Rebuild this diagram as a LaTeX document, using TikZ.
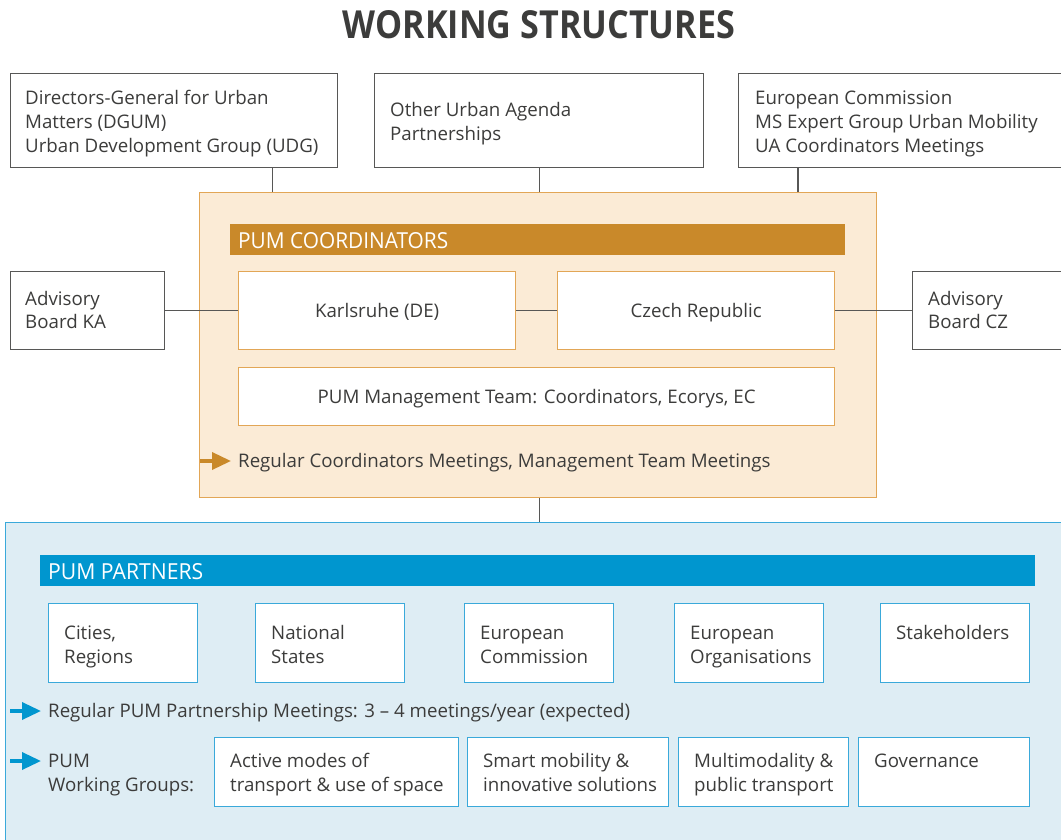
\documentclass[tikz,border=0pt]{standalone}
\usepackage{fontspec}
\setmainfont{Open Sans}
\usetikzlibrary{arrows.meta}

\definecolor{txt}{HTML}{3C3C3B}
\definecolor{greyline}{HTML}{575756}
\definecolor{orfill}{HTML}{FBEBD6}
\definecolor{orline}{HTML}{E2A656}
\definecolor{orbar}{HTML}{C9892A}
\definecolor{blfill}{HTML}{DEEDF4}
\definecolor{blline}{HTML}{3AA9DA}
\definecolor{blbar}{HTML}{0096CF}

% multi-line text whose baseline is the first line
\newcommand{\mlines}[1]{\begin{tabular}[t]{@{}l@{}}#1\end{tabular}}

\tikzset{
  body/.style={font=\fontsize{18.7}{24}\selectfont, text=txt},
  greybox/.style={draw=greyline, line width=1.3pt, fill=white},
  orbox/.style={draw=orline, line width=1.3pt, fill=white},
  blbox/.style={draw=blline, line width=1.3pt, fill=white},
  link/.style={draw=greyline, line width=1.2pt},
  label/.style={body, anchor=base west, inner sep=0pt},
  ctrlabel/.style={body, anchor=base, inner sep=0pt},
  bartext/.style={text=white, anchor=base west, inner sep=0pt},
  flowarrow/.style={line width=3.5pt, -{Triangle[length=19pt,width=17pt]}},
}

\begin{document}
\begin{tikzpicture}[x=1pt,y=-1pt]
\useasboundingbox (0,0) rectangle (1061,840);
\clip (0,0) rectangle (1061,840);

% title
\node[anchor=south, inner sep=0pt, text=txt] (title) at (539,39)
  {\resizebox{392pt}{28pt}{\bfseries WORKING STRUCTURES}};

% top row of external bodies
\node[greybox, minimum width=327pt, minimum height=94pt, anchor=north west] (dgum) at (10,73) {};
\node[label] (dgumt) at (25,105) {\mlines{Directors-General for Urban\\Matters (DGUM)\\Urban Development Group (UDG)}};

\node[greybox, minimum width=329pt, minimum height=94pt, anchor=north west] (uap) at (374,73) {};
\node[label] (uapt) at (390,117) {\mlines{Other Urban Agenda\\Partnerships}};

\node[greybox, minimum width=340pt, minimum height=94pt, anchor=north west] (ec) at (738,73) {};
\node[label] (ect) at (755,105) {\mlines{European Commission\\MS Expert Group Urban Mobility\\UA Coordinators Meetings}};

% coordinators panel
\node[draw=orline, line width=1.3pt, fill=orfill, minimum width=677pt, minimum height=305pt, anchor=north west] (coord) at (199,192) {};
\node[fill=orbar, minimum width=615pt, minimum height=31pt, anchor=north west, inner sep=0pt] (coordbar) at (230,224) {};
\node[bartext] (coordbart) at (238,248) {\resizebox{210pt}{16pt}{PUM COORDINATORS}};

\node[greybox, minimum width=154pt, minimum height=78pt, anchor=north west] (advka) at (10,271) {};
\node[label] (advkat) at (25,305) {\mlines{Advisory\\Board KA}};

\node[orbox, minimum width=277pt, minimum height=78pt, anchor=north west] (ka) at (238,271) {};
\node[ctrlabel] (kat) at (ka.center) [yshift=-6.5pt] {Karlsruhe (DE)};

\node[orbox, minimum width=277pt, minimum height=78pt, anchor=north west] (cz) at (557,271) {};
\node[ctrlabel] (czt) at (cz.center) [yshift=-6.5pt] {Czech Republic};

\node[greybox, minimum width=170pt, minimum height=78pt, anchor=north west] (advcz) at (912,271) {};
\node[label] (advczt) at (928,305) {\mlines{Advisory\\Board CZ}};

\node[orbox, minimum width=596pt, minimum height=58pt, anchor=north west] (mgmt) at (238,367) {};
\node[ctrlabel] (mgmtt) at (mgmt.center) [yshift=-6.5pt] {PUM Management Team: Coordinators, Ecorys, EC};

\coordinate (oa) at (200,461);
\node[label] (meetc) at (238,467.5) {Regular Coordinators Meetings, Management Team Meetings};
\draw[flowarrow, orbar] (oa) -- ([xshift=-7pt]meetc.west |- oa);

% partners panel
\node[draw=blline, line width=1.3pt, fill=blfill, minimum width=1080pt, minimum height=340pt, anchor=north west] (part) at (5,522) {};
\node[fill=blbar, minimum width=995pt, minimum height=31pt, anchor=north west, inner sep=0pt] (partbar) at (40,555) {};
\node[bartext] (partbart) at (48,579) {\resizebox{155pt}{16pt}{PUM PARTNERS}};

\node[blbox, minimum width=149pt, minimum height=79pt, anchor=north west] (p1) at (48,603) {};
\node[label] (p1t) at (64,639) {\mlines{Cities,\\Regions}};
\node[blbox, minimum width=149pt, minimum height=79pt, anchor=north west] (p2) at (255,603) {};
\node[label] (p2t) at (271,639) {\mlines{National\\States}};
\node[blbox, minimum width=149pt, minimum height=79pt, anchor=north west] (p3) at (464,603) {};
\node[label] (p3t) at (480,639) {\mlines{European\\Commission}};
\node[blbox, minimum width=149pt, minimum height=79pt, anchor=north west] (p4) at (674,603) {};
\node[label] (p4t) at (690,639) {\mlines{European\\Organisations}};
\node[blbox, minimum width=149pt, minimum height=79pt, anchor=north west] (p5) at (880,603) {};
\node[label] (p5t) at (896,639) {Stakeholders};

\coordinate (ba1) at (10,711);
\node[label] (meetp) at (48,717.5) {Regular PUM Partnership Meetings: 3 -- 4 meetings/year (expected)};
\draw[flowarrow, blbar] (ba1) -- ([xshift=-7pt]meetp.west |- ba1);

\coordinate (ba2) at (10,761);
\node[label] (wgt) at (48,767.5) {\mlines{PUM\\Working Groups:}};
\draw[flowarrow, blbar] (ba2) -- ([xshift=-7pt]wgt.west |- ba2);

\node[blbox, minimum width=244pt, minimum height=69pt, anchor=north west] (w1) at (214,737) {};
\node[label] (w1t) at (230,767.5) {\mlines{Active modes of\\transport \& use of space}};
\node[blbox, minimum width=201pt, minimum height=69pt, anchor=north west] (w2) at (467,737) {};
\node[label] (w2t) at (483,767.5) {\mlines{Smart mobility \&\\innovative solutions}};
\node[blbox, minimum width=170pt, minimum height=69pt, anchor=north west] (w3) at (678,737) {};
\node[label] (w3t) at (694,767.5) {\mlines{Multimodality \&\\public transport}};
\node[blbox, minimum width=171pt, minimum height=69pt, anchor=north west] (w4) at (858,737) {};
\node[label] (w4t) at (874,767.5) {Governance};

% connectors
\draw[link] ([xshift=-66pt]dgum.south east) coordinate (c1) -- (c1 |- coord.north);
\draw[link] (uap.south) -- (uap.south |- coord.north);
\draw[link] ([xshift=60pt]ec.south west) coordinate (c3) -- (c3 |- coord.north);
\draw[link] (advka.east) -- (ka.west);
\draw[link] (ka.east) -- (cz.west);
\draw[link] (cz.east) -- (advcz.west);
\draw[link] (coord.south -| uap.south) coordinate (c4) -- (c4 |- part.north);
\end{tikzpicture}
\end{document}
